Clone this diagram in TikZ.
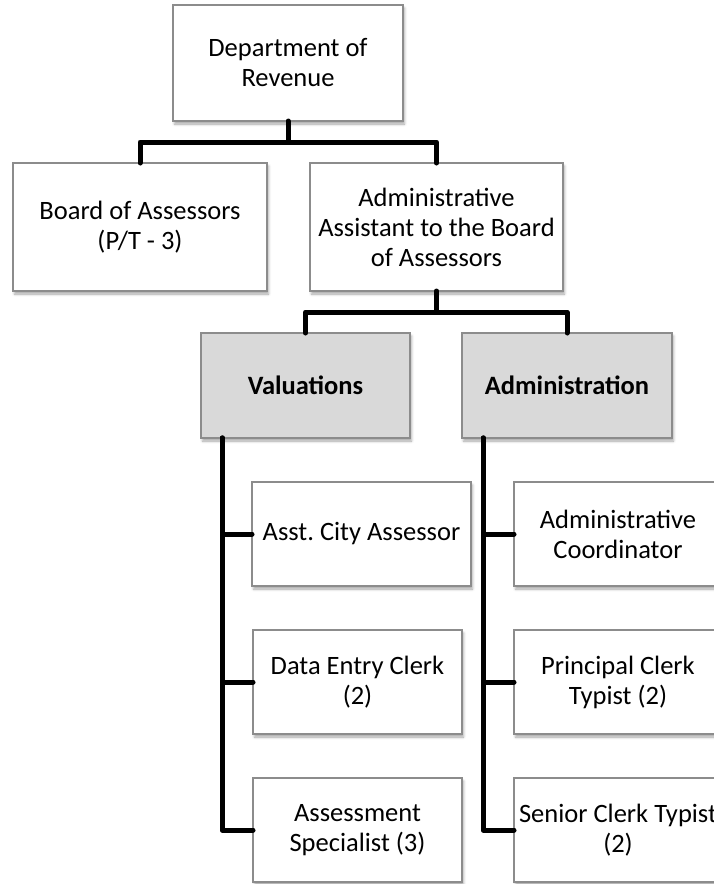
\documentclass[tikz,border=0pt]{standalone}
\usepackage{fontspec}
\setmainfont{Carlito}
\usetikzlibrary{shadows.blur}
\frenchspacing

\tikzset{
  unitbox/.style={
    draw=black!45, line width=1.2pt, fill=white, align=center,
    inner sep=0pt, outer sep=0pt,
    font=\fontsize{26.5}{30}\selectfont,
    blur shadow={shadow xshift=1.5pt, shadow yshift=-3pt,
                 shadow blur radius=2.5pt, shadow opacity=35}
  },
  groupbox/.style={unitbox, fill=black!15, font=\fontsize{26.5}{30}\selectfont\bfseries},
  link/.style={line width=5pt, line join=round, line cap=round, black}
}

\begin{document}
\begin{tikzpicture}[x=1pt, y=-1pt]
  \useasboundingbox (0,0) rectangle (714,884);
  \clip (0,0) rectangle (714,884);

  % top level
  \node[unitbox, minimum width=230pt, minimum height=116pt] (dept) at (288,63)
       {Department of\\Revenue};

  % second level
  \node[unitbox, minimum width=254pt, minimum height=128pt] (board) at (140,227)
       {Board of Assessors\\(P/T - 3)};
  \node[unitbox, minimum width=253pt, minimum height=128pt] (aide) at (436.5,227)
       {Administrative\\Assistant to the Board\\of Assessors};

  % divisions
  \node[groupbox, minimum width=209pt, minimum height=105pt] (val) at (305.5,385.5)
       {Valuations};
  \node[groupbox, minimum width=210pt, minimum height=105pt] (adm) at (567,385.5)
       {Administration};

  % valuations staff
  \node[unitbox, minimum width=219pt, minimum height=104pt] (acs) at (361.5,534)
       {Asst. City Assessor};
  \node[unitbox, minimum width=209pt, minimum height=104pt] (dec) at (357.5,682)
       {Data Entry Clerk\\(2)};
  \node[unitbox, minimum width=209pt, minimum height=104pt] (asp) at (357.5,830)
       {Assessment\\Specialist (3)};

  % administration staff (the column runs past the right margin)
  \node[unitbox, minimum width=208pt, minimum height=104pt] (aco) at (618,534)
       {Administrative\\Coordinator};
  \node[unitbox, minimum width=208pt, minimum height=104pt] (pct) at (618,682)
       {Principal Clerk\\Typist (2)};
  \node[unitbox, minimum width=208pt, minimum height=104pt] (sct) at (618,830)
       {Senior Clerk Typist\\(2)};

  % connectors: top level to second level
  \draw[link] (dept.south) -- ++(0,21) coordinate (j1) -| (board.north);
  \draw[link] (j1) -| (aide.north);

  % second level to divisions
  \draw[link] (aide.south) -- ++(0,21) coordinate (j2) -| (val.north);
  \draw[link] (j2) -| (adm.north);

  % valuations spine
  \coordinate (vs) at ([xshift=21pt]val.south west);
  \draw[link] (vs) |- (asp.west);
  \draw[link] (vs) |- (acs.west);
  \draw[link] (vs) |- (dec.west);

  % administration spine
  \coordinate (as) at ([xshift=21pt]adm.south west);
  \draw[link] (as) |- (sct.west);
  \draw[link] (as) |- (aco.west);
  \draw[link] (as) |- (pct.west);
\end{tikzpicture}
\end{document}
